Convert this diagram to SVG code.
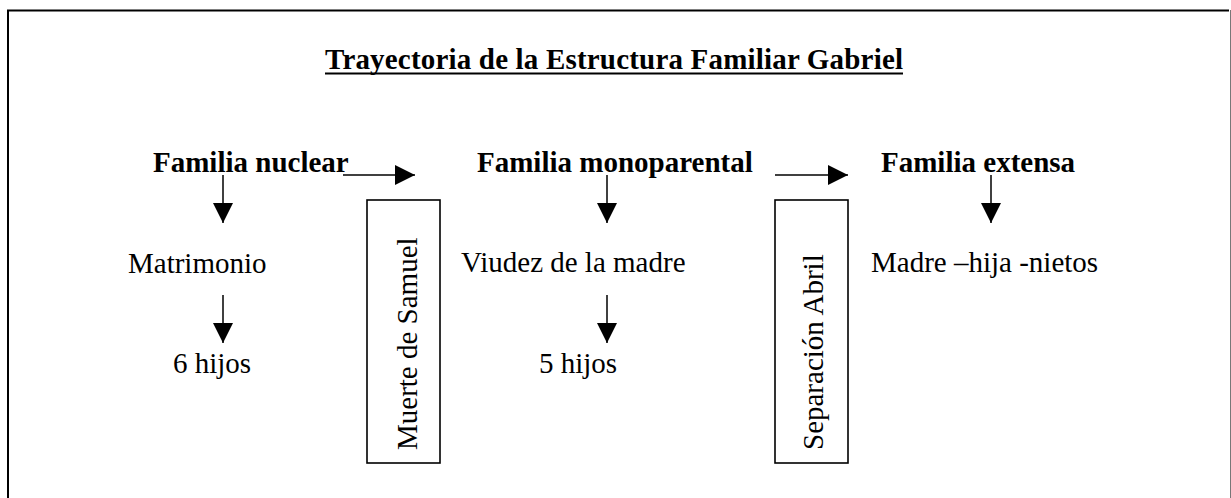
<svg xmlns="http://www.w3.org/2000/svg" width="1231" height="498" viewBox="0 0 1231 498">
<style>
text{font-family:"Liberation Serif","Times New Roman",serif;font-size:29px;fill:#000}
.b{font-weight:bold}
.ln{stroke:#000;stroke-width:1.5;fill:none}
.box{stroke:#000;stroke-width:1.6;fill:#fff}
.frame{stroke:#000;stroke-width:2;fill:none}
</style>
<defs>
<marker id="ah" viewBox="0 0 20 20" refX="20" refY="10" markerWidth="20" markerHeight="20" markerUnits="userSpaceOnUse" orient="auto">
<path d="M0,0 L20,10 L0,20 Z" fill="#000"/>
</marker>
</defs>
<g id="frame">
<path class="frame" d="M8,498 V10.5 H1229"/>
<line x1="1230.5" y1="10" x2="1230.5" y2="498" stroke="#777" stroke-width="1"/>
</g>
<g id="title">
<text class="b" x="325" y="69" textLength="578" lengthAdjust="spacing">Trayectoria de la Estructura Familiar Gabriel</text>
<line x1="325" y1="73.5" x2="903" y2="73.5" stroke="#000" stroke-width="2.2"/>
</g>
<g id="n-nuclear"><text class="b" x="153" y="172">Familia nuclear</text></g>
<g id="n-matrimonio"><text x="128" y="273">Matrimonio</text></g>
<g id="n-6hijos"><text x="173" y="373">6 hijos</text></g>
<g id="n-muerte">
<rect class="box" x="367" y="200" width="73" height="263"/>
<text transform="translate(417,450) rotate(-90)">Muerte de Samuel</text>
</g>
<g id="n-monoparental"><text class="b" x="477" y="172">Familia monoparental</text></g>
<g id="n-viudez"><text x="461" y="272">Viudez de la madre</text></g>
<g id="n-5hijos"><text x="539" y="373">5 hijos</text></g>
<g id="n-separacion">
<rect class="box" x="775" y="200" width="73" height="263"/>
<text transform="translate(823,450) rotate(-90)">Separación Abril</text>
</g>
<g id="n-extensa"><text class="b" x="881" y="172">Familia extensa</text></g>
<g id="n-madre"><text x="871" y="272">Madre –hija -nietos</text></g>
<g id="connectors">
<line class="ln" x1="343" y1="175" x2="415" y2="175" marker-end="url(#ah)"/>
<line class="ln" x1="775" y1="175" x2="848" y2="175" marker-end="url(#ah)"/>
<line class="ln" x1="223" y1="175" x2="223" y2="223" marker-end="url(#ah)"/>
<line class="ln" x1="223" y1="295" x2="223" y2="343" marker-end="url(#ah)"/>
<line class="ln" x1="607" y1="175" x2="607" y2="223" marker-end="url(#ah)"/>
<line class="ln" x1="607" y1="295" x2="607" y2="343" marker-end="url(#ah)"/>
<line class="ln" x1="991" y1="175" x2="991" y2="223" marker-end="url(#ah)"/>
</g>
</svg>
